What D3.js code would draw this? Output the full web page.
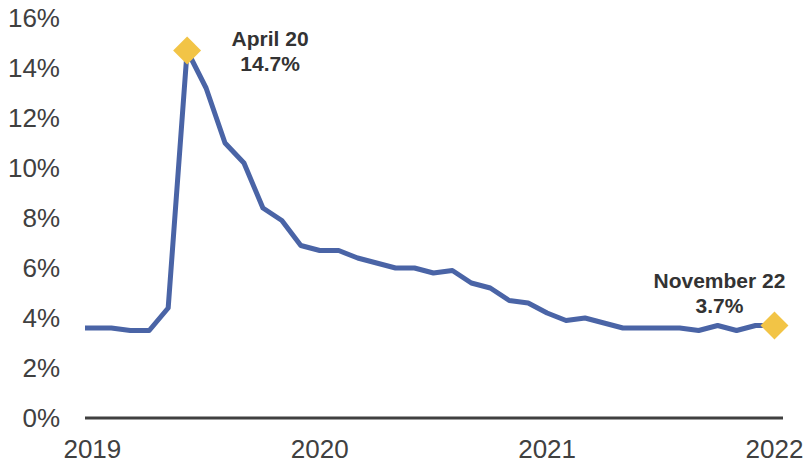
<!DOCTYPE html>
<html>
<head>
<meta charset="utf-8">
<script src="https://cdn.jsdelivr.net/npm/d3@7"></script>
<style>
  body { margin: 0; background: #fff; }
  svg { display: block; font-family: "Liberation Sans", Arial, sans-serif; }
</style>
</head>
<body>
<div id="chart"></div>
<script>
// monthly unemployment rate, Oct 2019 .. Nov 2022
const months = d3.range(38).map(i => new Date(2019, 9 + i, 1));
const rates = [3.6, 3.6, 3.6, 3.5, 3.5, 4.4, 14.7, 13.2, 11.0, 10.2, 8.4, 7.9, 6.9, 6.7,
               6.7, 6.4, 6.2, 6.0, 6.0, 5.8, 5.9, 5.4, 5.2, 4.7, 4.6, 4.2, 3.9, 4.0,
               3.8, 3.6, 3.6, 3.6, 3.6, 3.5, 3.7, 3.5, 3.7, 3.7];
const yTicks = [0, 2, 4, 6, 8, 10, 12, 14, 16];
const xTickIdx = [1, 13, 25, 37];
const xTickLabels = ["2019", "2020", "2021", "2022"];
const highlights = [
  {idx: 6, lines: ["April 20", "14.7%"]},
  {idx: 37, lines: ["November 22", "3.7%"]}
];

const width = 805, height = 467;
const x = d3.scaleLinear().domain([0.61, 37.45]).range([85, 783]);
const y = d3.scaleLinear().domain([0, 16]).range([418, 18]);

const svg = d3.select("#chart").append("svg")
  .attr("width", width).attr("height", height);

svg.append("clipPath").attr("id", "clip")
  .append("rect")
  .attr("x", x.range()[0]).attr("y", 0)
  .attr("width", x.range()[1] - x.range()[0]).attr("height", height);

// y labels
svg.append("g").selectAll("text")
  .data(yTicks).join("text")
  .attr("x", 60).attr("y", d => y(d))
  .attr("dy", "0.35em")
  .attr("text-anchor", "end")
  .attr("font-size", 26)
  .attr("fill", "#404040")
  .text(d => d + "%");

// x labels
svg.append("g").selectAll("text")
  .data(xTickIdx).join("text")
  .attr("x", d => x(d)).attr("y", 458)
  .attr("text-anchor", "middle")
  .attr("font-size", 26)
  .attr("fill", "#404040")
  .text((d, i) => xTickLabels[i]);

// zero line
svg.append("line")
  .attr("x1", x.range()[0]).attr("x2", x.range()[1])
  .attr("y1", y(0)).attr("y2", y(0))
  .attr("stroke", "#404040").attr("stroke-width", 3);

const line = d3.line()
  .x((d, i) => x(i))
  .y(d => y(d));

svg.append("path")
  .datum(rates)
  .attr("clip-path", "url(#clip)")
  .attr("fill", "none")
  .attr("stroke", "#4a64a6")
  .attr("stroke-width", 5)
  .attr("stroke-linejoin", "round")
  .attr("d", line);

// highlighted points
svg.append("g").selectAll("path")
  .data(highlights).join("path")
  .attr("transform", d => `translate(${x(d.idx)},${y(rates[d.idx])}) rotate(45)`)
  .attr("d", d3.symbol(d3.symbolSquare, 390))
  .attr("fill", "#f2c446");

const notes = svg.append("g").selectAll("text")
  .data(highlights).join("text")
  .attr("text-anchor", "middle")
  .attr("font-size", 21)
  .attr("font-weight", "bold")
  .attr("fill", "#333");
notes.each(function(d) {
  const t = d3.select(this);
  const cx = d.idx === 6 ? x(d.idx) + 83 : x(d.idx) - 55;
  const cy = d.idx === 6 ? 46 : y(rates[d.idx]) - 38;
  d.lines.forEach((s, k) => {
    t.append("tspan").attr("x", cx).attr("y", cy + k * 25).text(s);
  });
});
</script>
</body>
</html>
